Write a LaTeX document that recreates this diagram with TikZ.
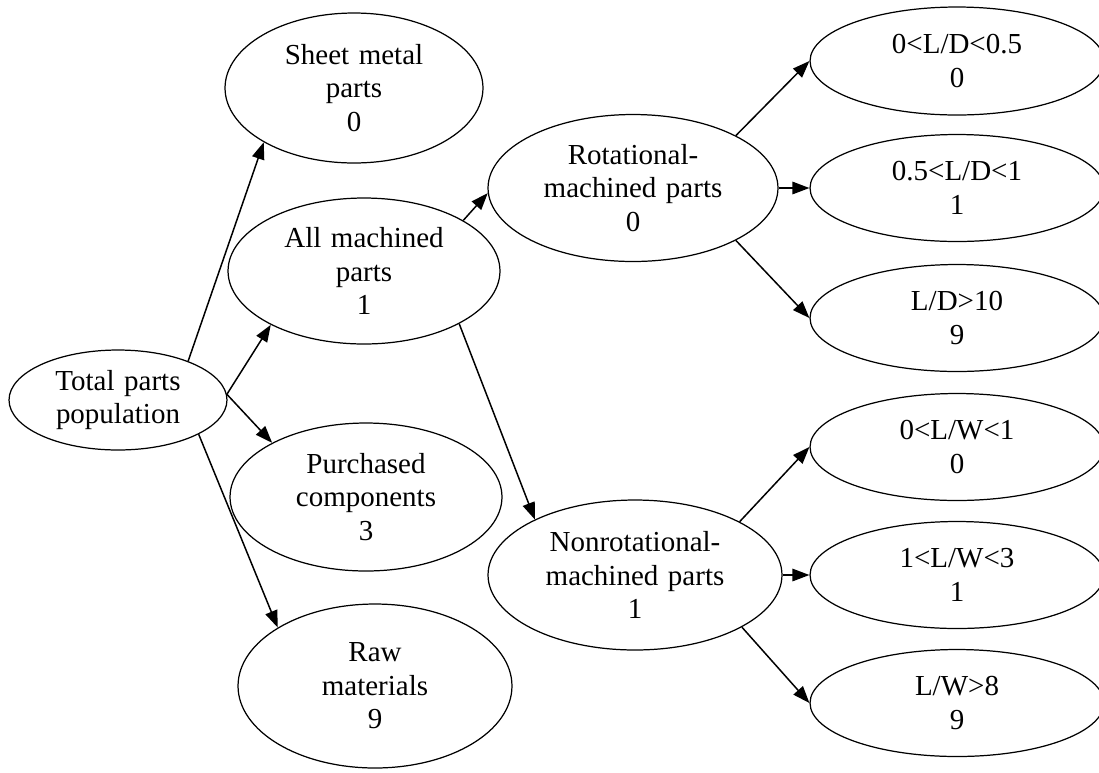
\documentclass[tikz,border=0pt]{standalone}
\usepackage{fontspec}
\setmainfont{Liberation Serif}
\usetikzlibrary{arrows.meta,shapes.geometric}
\newcommand{\ellfont}{\fontsize{16.5}{19}\selectfont\spaceskip=0.33em\relax}
\begin{document}
\begin{tikzpicture}[x=0.02cm,y=-0.02cm,
  ell/.style={draw,ellipse,line width=0.7pt,inner sep=0pt,align=center,
    font=\ellfont},
  arr/.style={line width=0.85pt,-{Triangle[length=0.34cm,width=0.25cm]}}]
\clip (0,0) rectangle (1099,772);
\fill[white] (0,0) rectangle (1099,772);
\node[ell,minimum width=4.36cm,minimum height=2.0cm] (tot) at (118,400) {Total parts\\population};
\node[ell,minimum width=5.16cm,minimum height=3.0cm] (sheet) at (354,88) {Sheet metal\\parts\\0};
\node[ell,minimum width=5.44cm,minimum height=2.92cm] (allm) at (364,271) {All machined\\parts\\1};
\node[ell,minimum width=5.44cm,minimum height=2.96cm] (purch) at (366,497) {Purchased\\components\\3};
\node[ell,minimum width=5.48cm,minimum height=3.28cm] (raw) at (375,686) {Raw\\materials\\9};
\node[ell,minimum width=5.8cm,minimum height=2.94cm] (rot) at (633,188) {Rotational-\\machined parts\\0};
\node[ell,minimum width=5.88cm,minimum height=3.0cm] (nonrot) at (635,575) {Nonrotational-\\machined parts\\1};
\node[ell,minimum width=5.88cm,minimum height=2.16cm] (r1) at (957,61) {0<L/D<0.5\\0};
\node[ell,minimum width=5.88cm,minimum height=2.14cm] (r2) at (957,188) {0.5<L/D<1\\1};
\node[ell,minimum width=5.88cm,minimum height=2.14cm] (r3) at (957,318) {L/D>10\\9};
\node[ell,minimum width=5.88cm,minimum height=2.14cm] (r4) at (957,447) {0<L/W<1\\0};
\node[ell,minimum width=5.88cm,minimum height=2.14cm] (r5) at (957,575) {1<L/W<3\\1};
\node[ell,minimum width=5.88cm,minimum height=2.14cm] (r6) at (957,703) {L/W>8\\9};
\draw[arr] (tot.29) -- (sheet.211);
\draw[arr] (tot.3) -- (allm.210);
\draw[arr] (tot.3) -- (purch.150);
\draw[arr] (tot.-23) -- (raw.149);
\draw[arr] (allm.27) -- (rot.182);
\draw[arr] (allm.-29) -- (nonrot.151);
\draw[arr] (rot.27) -- (r1.west);
\draw[arr] (rot.east) -- (r2.west);
\draw[arr] (rot.-27) -- (r3.west);
\draw[arr] (nonrot.27) -- (r4.west);
\draw[arr] (nonrot.east) -- (r5.west);
\draw[arr] (nonrot.-26) -- (r6.west);
\end{tikzpicture}
\end{document}
